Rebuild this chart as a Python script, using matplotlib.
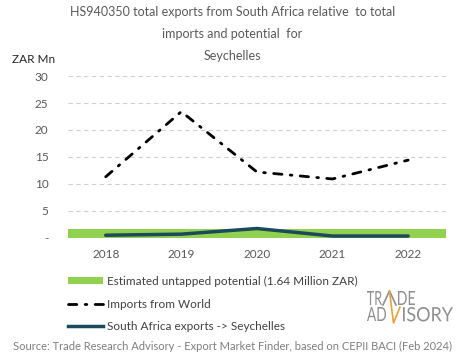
import numpy as np
import matplotlib.pyplot as plt
from matplotlib.patches import Patch, PathPatch
from matplotlib.lines import Line2D
from matplotlib.textpath import TextPath
from matplotlib.font_manager import FontProperties
from matplotlib.transforms import Affine2D

years = ['2018', '2019', '2020', '2021', '2022']
imports_world = [11.3, 23.4, 12.2, 10.9, 14.4]
sa_exports = [0.45, 0.65, 1.7, 0.3, 0.3]
potential = [1.64, 1.64, 1.64, 1.64, 1.64]
yticks = [0, 5, 10, 15, 20, 25, 30]
ytick_labels = ['-', '5', '10', '15', '20', '25', '30']

plt.rcParams['font.family'] = ['Lato', 'DejaVu Sans']

green = '#92d050'
teal = '#1b4a5c'
grey = '#595959'
W, H = 465, 359

fig = plt.figure(figsize=(4.65, 3.59), dpi=100)
ax = fig.add_axes([0.146, 0.338, 0.813, 0.45])

x = np.arange(len(years))
ax.bar(x, potential, width=1.0, color=green, linewidth=0, zorder=2)
ax.plot(x, imports_world, color='black', linewidth=2, dashes=(3, 3, 0.6, 3),
        dash_capstyle='round', zorder=3)
ax.plot(x, sa_exports, color=teal, linewidth=2.5, solid_capstyle='round', zorder=4)

ax.set_xlim(-0.5, 4.5)
ax.set_ylim(0, 30)
ax.set_xticks(x)
ax.set_xticklabels(years)
ax.set_yticks(yticks)
ax.set_yticklabels(ytick_labels)
ax.tick_params(length=0, labelsize=8.5, colors=grey, pad=8)
ax.tick_params(axis='y', pad=14)
for s in ax.spines.values():
    s.set_visible(False)
ax.yaxis.grid(True, color='#d0d0d0', linestyle=(0, (4, 3)), linewidth=0.8, zorder=0)
ax.set_axisbelow(True)

fig.text(0.5, 0.982, 'HS940350 total exports from South Africa relative  to total\n'
         'imports and potential  for\nSeychelles',
         ha='center', va='top', fontsize=9, color=grey, linespacing=2.0)
fig.text(0.026, 0.833, 'ZAR Mn', ha='left', va='center', fontsize=8.5, color='#262626')

handles = [Patch(facecolor=green, edgecolor='none'),
           Line2D([], [], color='black', linewidth=2, dashes=(3, 3, 0.6, 3), dash_capstyle='round'),
           Line2D([], [], color=teal, linewidth=2.5)]
labels = ['Estimated untapped potential (1.64 Million ZAR)',
          'Imports from World',
          'South Africa exports -> Seychelles']
fig.legend(handles, labels, loc='upper left', bbox_to_anchor=(0.146, 0.232),
           frameon=False, fontsize=8.5, handlelength=3.0, handleheight=0.6,
           handletextpad=0.35, labelspacing=1.0, labelcolor='#404040',
           borderaxespad=0, borderpad=0)

fig.text(0.5, 0.035, 'Source: Trade Research Advisory - Export Market Finder, based on CEPII BACI (Feb 2024)',
         ha='center', va='center', fontsize=8, color='#7f7f7f')

# logo, drawn in pixel boxes (y measured from top)
logo_grey = '#8f8f8f'
orange = '#f0a030'
fp = FontProperties(family='Lato', weight='normal')


def word(s, x0, x1, ytop, ybot, color):
    path = TextPath((0, 0), s, size=20, prop=fp)
    ext = path.get_extents()
    tr = (Affine2D().translate(-ext.x0, -ext.y0)
          .scale((x1 - x0) / ext.width, (ybot - ytop) / ext.height)
          .translate(x0, H - ybot).scale(1 / 100) + fig.dpi_scale_trans)
    fig.add_artist(PathPatch(path, transform=tr, facecolor=color, edgecolor='none'))


def pline(xs, ys, color):
    fig.add_artist(Line2D([v / W for v in xs], [1 - v / H for v in ys], color=color,
                          linewidth=1.2, transform=fig.transFigure))


word('TR', 367, 382, 291, 305, logo_grey)
pline([383, 389.5, 396], [305, 291, 305], logo_grey)
word('DE', 398, 415, 291, 305, logo_grey)
word('AD', 367, 386, 307, 321, logo_grey)
pline([389.5, 393.5, 400], [291, 323, 307], orange)
word('ISORY', 403, 453, 307, 321.5, logo_grey)

plt.savefig('out.png', dpi=100)
